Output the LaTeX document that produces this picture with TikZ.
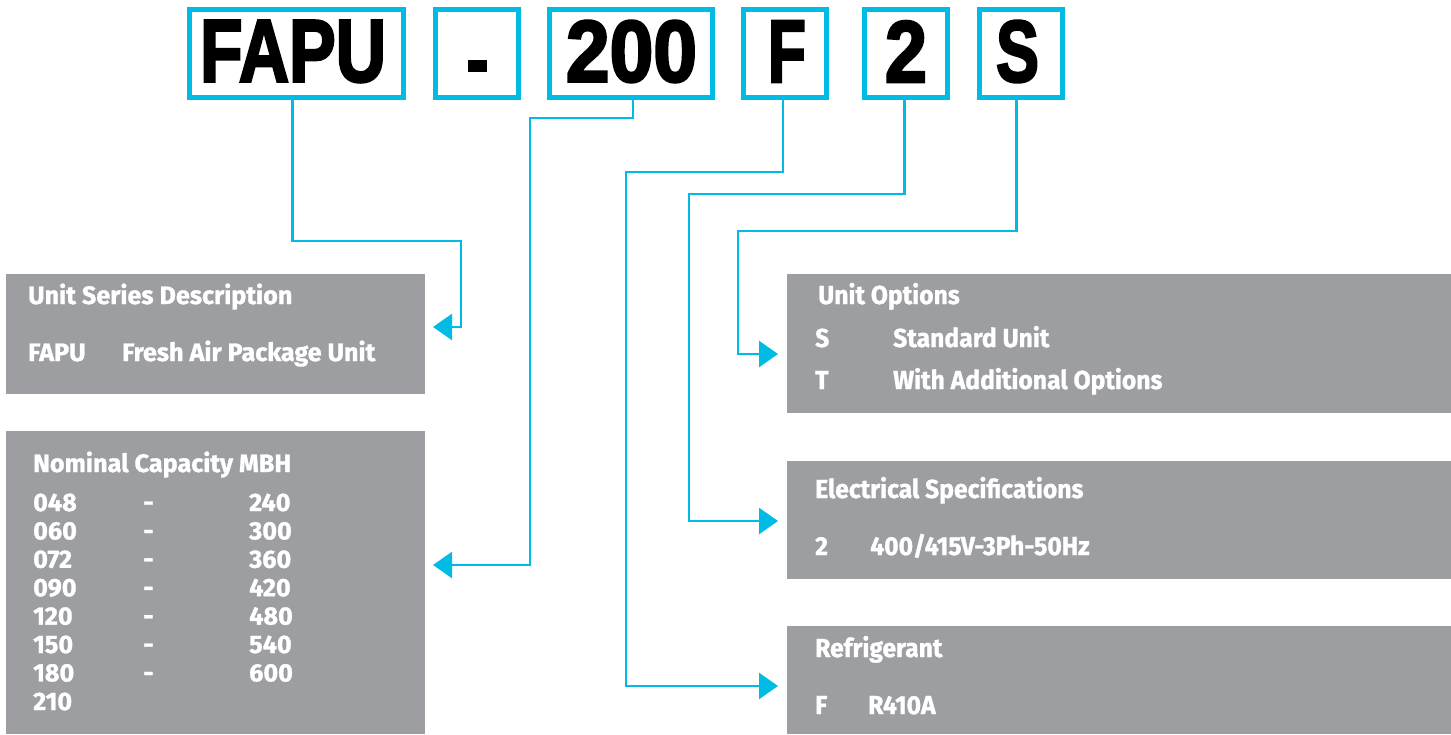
\documentclass[tikz,border=0pt]{standalone}
\usepackage{fontspec}
\setmainfont{Fira Sans}[FakeBold=1.2]
\newfontfamily\codefont{Liberation Sans}[FakeBold=3]
\usetikzlibrary{arrows.meta}
\definecolor{cyanline}{HTML}{00BCE4}
\definecolor{greybox}{HTML}{9D9EA2}
\tikzset{
  codebox/.style={draw=cyanline, line width=5pt, fill=white, inner sep=0pt, outer sep=0pt, minimum height=88pt},
  infobox/.style={fill=greybox, inner sep=0pt, outer sep=0pt, anchor=north west},
  conn/.style={draw=cyanline, line width=2.5pt, -{Triangle[length=19pt,width=26pt]}},
  lt/.style={text=white, anchor=base west, inner sep=0pt, font=\fontsize{25.2}{28}\selectfont\bfseries},
  rt/.style={text=white, anchor=base west, inner sep=0pt, font=\fontsize{26}{30}\selectfont\bfseries},
}
\newcommand{\cond}[1]{\scalebox{0.95}[1]{#1}}
\newcommand{\codetxt}[2]{\resizebox{#1}{61pt}{\codefont\bfseries #2}}
\begin{document}
\begin{tikzpicture}[x=1pt,y=-1pt]
\useasboundingbox (0,0) rectangle (1451,734);
% code boxes
\node[codebox, minimum width=214pt] (fapu) at (296.5,53.5) {};
\node[codebox, minimum width=83pt] (dash) at (477,53.5) {};
\node[codebox, minimum width=163pt] (cap) at (631,53.5) {};
\node[codebox, minimum width=83pt] (ref) at (784.5,53.5) {};
\node[codebox, minimum width=83pt] (elec) at (905.5,53.5) {};
\node[codebox, minimum width=83pt] (opt) at (1020.5,53.5) {};
% code texts
\node[inner sep=0pt] (fapuT) at (293,51.5) {\codetxt{186pt}{FAPU}};
\node[fill=black, inner sep=0pt, minimum width=19pt, minimum height=12pt] (dashT) at (477.5,66) {};
\node[inner sep=0pt] (capT) at (631.5,51.5) {\codetxt{131pt}{200}};
\node[inner sep=0pt] (refT) at (787,51.5) {\codetxt{38pt}{F}};
\node[inner sep=0pt] (elecT) at (906,51.5) {\codetxt{42pt}{2}};
\node[inner sep=0pt] (optT) at (1017.5,51.5) {\codetxt{43pt}{S}};
% info boxes
\node[infobox, minimum width=419pt, minimum height=120pt] (usd) at (6,274) {};
\node[infobox, minimum width=419pt, minimum height=303pt] (ncap) at (6,431) {};
\node[infobox, minimum width=664pt, minimum height=139pt] (uopt) at (787,274) {};
\node[infobox, minimum width=664pt, minimum height=118pt] (espec) at (787,461) {};
\node[infobox, minimum width=664pt, minimum height=108pt] (refr) at (787,626) {};
% texts left
\node[lt] (t1) at (28,304) {Unit Series Description};
\node[lt] (t2) at (28,361) {FAPU};
\node[lt] (t3) at (122,361) {Fresh Air Package Unit};
\node[lt] (t4) at (33,472) {Nominal Capacity MBH};
\foreach \a/\b [count=\i from 0] in {048/240,060/300,072/360,090/420,120/480,150/540,180/600}{
  \node[lt] (ra\i) at (33,511+28.4*\i) {\a};
  \node[lt] (rd\i) at (143,511+28.4*\i) {-};
  \node[lt] (rb\i) at (249,511+28.4*\i) {\b};
}
\node[lt] (ra7) at (33,710) {210};
% texts right
\node[rt] (u1) at (818,304) {\cond{Unit Options}};
\node[rt] (u2) at (815,347) {\cond{S}};
\node[rt] (u3) at (893,347) {\cond{Standard Unit}};
\node[rt] (u4) at (815,389) {\cond{T}};
\node[rt] (u5) at (893,389) {\cond{With Additional Options}};
\node[rt] (e1) at (815,498) {\cond{Electrical Specifications}};
\node[rt] (e2) at (815,555) {\cond{2}};
\node[rt] (e3) at (870,555) {\cond{400/415V-3Ph-50Hz}};
\node[rt] (f1) at (815,657) {\cond{Refrigerant}};
\node[rt] (f2) at (815,714) {\cond{F}};
\node[rt] (f3) at (868,714) {\cond{R410A}};
% connector coordinates
\coordinate (b1) at (461,241);
\coordinate (a1) at (433,327);
\coordinate (b2) at (530,118);
\coordinate (a2) at (433,565);
\coordinate (b3) at (626,172);
\coordinate (a3) at (778,686);
\coordinate (b4) at (689,194);
\coordinate (a4) at (778,521);
\coordinate (b5) at (738,231);
\coordinate (a5) at (778,354);
% connectors
\draw[conn] ([xshift=-4pt]fapu.south) |- (b1) |- (a1);
\draw[conn] ([xshift=2pt]cap.south) |- (b2) |- (a2);
\draw[conn] ([xshift=-1.5pt]ref.south) |- (b3) |- (a3);
\draw[conn] ([xshift=-1pt]elec.south) |- (b4) |- (a4);
\draw[conn] ([xshift=-4pt]opt.south) |- (b5) |- (a5);
\end{tikzpicture}
\end{document}
